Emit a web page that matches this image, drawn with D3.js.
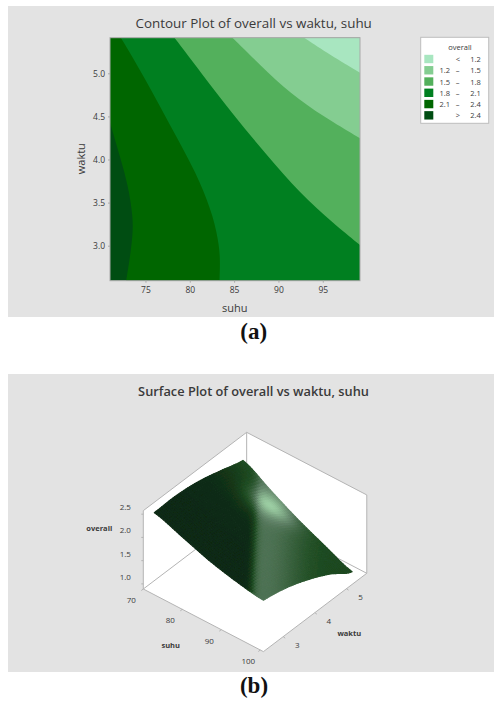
<!DOCTYPE html>
<html>
<head>
<meta charset="utf-8">
<script src="https://cdn.jsdelivr.net/npm/d3@7"></script>
<style>
  html, body { margin: 0; padding: 0; background: #fff; }
  svg { display: block; }
  text { font-family: "Open Sans", sans-serif; fill: #3a3a3a; }
</style>
</head>
<body>
<div id="chart"></div>
<script>
// contour panel: band boundaries, as [suhu, waktu]
const bandLabels = ['< 1.2', '1.2 - 1.5', '1.5 - 1.8', '1.8 - 2.1', '2.1 - 2.4', '> 2.4'];
const legendLow = ['<', '1.2', '1.5', '1.8', '2.1', '>'];
const legendHigh = ['1.2', '1.5', '1.8', '2.1', '2.4', '2.4'];
const bandColors = ['#a8e6c0', '#84cd91', '#53b05c', '#007f20', '#006600', '#004d12'];

const boundary24 = [[71.0, 4.427], [72.13, 4.033], [73.08, 3.685], [73.58, 3.337], [73.58, 3.144], [73.27, 2.873], [72.82, 2.594]];
const boundary21 = [[72.22, 5.413], [74.4, 5.038], [76.66, 4.613], [79.1, 4.149], [81.17, 3.743], [82.67, 3.337], [83.35, 2.989], [83.42, 2.796], [83.35, 2.594]];
const boundary18 = [[78.27, 5.413], [81.17, 5.019], [84.92, 4.516], [88.68, 4.052], [92.44, 3.608], [96.2, 3.26], [99.2, 3.008]];
const boundary15 = [[84.81, 5.413], [87.93, 5.096], [91.31, 4.768], [95.07, 4.497], [99.2, 4.246]];
const boundary12 = [[92.89, 5.413], [95.82, 5.212], [99.2, 5.007]];

const contourXTicks = [75, 80, 85, 90, 95];
const contourYTicks = [3.0, 3.5, 4.0, 4.5, 5.0];

const surfaceSuhu = [71, 78, 85, 92, 99];
const surfaceWaktu = [2.6, 3.3, 4.0, 4.7, 5.4];
const overall26 = [2.46, 2.26, 2.05, 1.9, 1.8];
const overall33 = [2.47, 2.27, 2.05, 1.88, 1.7];
const overall40 = [2.41, 2.17, 1.95, 1.72, 1.52];
const overall47 = [2.28, 2.03, 1.78, 1.5, 1.28];
const overall54 = [2.14, 1.81, 1.49, 1.22, 0.97];

const surfaceSuhuTicks = [70, 80, 90, 100];
const surfaceWaktuTicks = [3, 4, 5];
const surfaceOverallTicks = [1.0, 1.5, 2.0, 2.5];

const width = 494;
const height = 702;
const panelColor = '#e3e3e3';
const lineColor = '#b4b4b4';

const svg = d3.select('#chart').append('svg')
    .attr('width', width)
    .attr('height', height);

svg.append('rect').attr('x', 8).attr('y', 6).attr('width', width - 8).attr('height', 311).attr('fill', panelColor);
svg.append('rect').attr('x', 8).attr('y', 374).attr('width', width - 8).attr('height', 298).attr('fill', panelColor);

// ---------- (a) contour ----------
const plot = { left: 110, right: 360, top: 37.7, bottom: 280.7 };
const xDomain = [71.0, 99.2];
const yDomain = [2.594, 5.413];
const x = d3.scaleLinear().domain(xDomain).range([plot.left, plot.right]);
const y = d3.scaleLinear().domain(yDomain).range([plot.bottom, plot.top]);

svg.append('text').attr('x', 253.7).attr('y', 28).attr('text-anchor', 'middle')
    .attr('font-size', 13.4).text('Contour Plot of overall vs waktu, suhu');

svg.append('clipPath').attr('id', 'plotClip').append('rect')
    .attr('x', plot.left).attr('y', plot.top)
    .attr('width', plot.right - plot.left).attr('height', plot.bottom - plot.top);

const bands = svg.append('g').attr('clip-path', 'url(#plotClip)');
bands.append('rect')
    .attr('x', plot.left).attr('y', plot.top)
    .attr('width', plot.right - plot.left).attr('height', plot.bottom - plot.top)
    .attr('fill', bandColors[5]);

const boundaryLine = d3.line().x(d => x(d[0])).y(d => y(d[1])).curve(d3.curveBasis);

// everything to the upper right of a boundary gets that band's colour
function bandPath(b) {
    const first = b[0];
    const last = b[b.length - 1];
    const walk = [];
    if (last[1] <= yDomain[0]) walk.push([xDomain[1], yDomain[0]]);
    walk.push([xDomain[1], yDomain[1]]);
    if (first[0] <= xDomain[0]) walk.push([xDomain[0], yDomain[1]]);
    return boundaryLine(b) + walk.map(p => `L${x(p[0])},${y(p[1])}`).join('') + 'Z';
}

bands.selectAll('path')
    .data([
        { b: boundary24, c: bandColors[4] },
        { b: boundary21, c: bandColors[3] },
        { b: boundary18, c: bandColors[2] },
        { b: boundary15, c: bandColors[1] },
        { b: boundary12, c: bandColors[0] }
    ])
    .enter().append('path')
    .attr('d', d => bandPath(d.b))
    .attr('fill', d => d.c);

svg.append('rect')
    .attr('x', plot.left).attr('y', plot.top)
    .attr('width', plot.right - plot.left).attr('height', plot.bottom - plot.top)
    .attr('fill', 'none').attr('stroke', '#a9a9a9');

const xAxis = svg.append('g').attr('transform', `translate(0,${plot.bottom})`)
    .call(d3.axisBottom(x).tickValues(contourXTicks).tickSize(2).tickPadding(4));
const yAxis = svg.append('g').attr('transform', `translate(${plot.left},0)`)
    .call(d3.axisLeft(y).tickValues(contourYTicks).tickFormat(d3.format('.1f')).tickSize(2).tickPadding(3));
[xAxis, yAxis].forEach(a => {
    a.select('.domain').remove();
    a.selectAll('line').attr('stroke', '#a9a9a9');
    a.selectAll('text').attr('font-size', 8.5).attr('font-family', '"Open Sans", sans-serif');
});

svg.append('text').attr('x', 234.7).attr('y', 312).attr('text-anchor', 'middle').attr('font-size', 11).text('suhu');
svg.append('text').attr('transform', 'translate(85,158.7) rotate(-90)').attr('text-anchor', 'middle').attr('font-size', 11).text('waktu');

// legend
const legend = svg.append('g');
legend.append('rect').attr('x', 420.7).attr('y', 37.3).attr('width', 68).attr('height', 86)
    .attr('fill', '#fff').attr('stroke', '#bdbdbd');
legend.append('text').attr('x', 460).attr('y', 50).attr('text-anchor', 'middle').attr('font-size', 7.5).text('overall');

const legendY = d3.scaleBand().domain(d3.range(bandLabels.length)).range([53.4, 121]);
const rows = legend.selectAll('g.row').data(bandLabels).enter().append('g').attr('class', 'row')
    .attr('transform', (d, i) => `translate(0,${legendY(i)})`);
rows.append('rect').attr('x', 424.3).attr('y', 1.4).attr('width', 9).attr('height', 8.4)
    .attr('fill', (d, i) => bandColors[i]);
rows.append('text').attr('x', (d, i) => (i === 0 || i === 5) ? 458 : 450).attr('y', 8.6)
    .attr('text-anchor', (d, i) => (i === 0 || i === 5) ? 'middle' : 'end')
    .attr('font-size', 7.5).text((d, i) => legendLow[i]);
rows.filter((d, i) => i > 0 && i < 5).append('text').attr('x', 457.7).attr('y', 8.6)
    .attr('text-anchor', 'middle').attr('font-size', 7.5).text('\u2013');
rows.append('text').attr('x', 480.7).attr('y', 8.6).attr('text-anchor', 'end')
    .attr('font-size', 7.5).text((d, i) => legendHigh[i]);

svg.append('text').attr('x', 253.7).attr('y', 339).attr('text-anchor', 'middle')
    .style('font-family', '"Liberation Serif", serif').attr('font-size', 23).attr('font-weight', 700)
    .style('fill', '#111').text('(a)');

// ---------- (b) surface ----------
svg.append('text').attr('x', 253.5).attr('y', 396).attr('text-anchor', 'middle')
    .attr('font-size', 12.8).attr('font-weight', 600).text('Surface Plot of overall vs waktu, suhu');

const boxSuhu = [70, 100.8];
const boxWaktu = [2.376, 5.64];
const boxOverall = [0.89, 2.576];

// oblique projection, one scale per axis and screen direction
const suhuDx = d3.scaleLinear().domain([70, 100]).range([0, 117]);
const suhuDy = d3.scaleLinear().domain([70, 100]).range([0, 61]);
const waktuDx = d3.scaleLinear().domain([2.376, 5.376]).range([0, 95]);
const waktuDy = d3.scaleLinear().domain([2.376, 5.376]).range([0, -72]);
const overallDy = d3.scaleLinear().domain([0.89, 1.89]).range([0, -46.47]);
const project = (s, w, o) => [
    143.3 + suhuDx(s) + waktuDx(w),
    589 + suhuDy(s) + waktuDy(w) + overallDy(o)
];

const [sLo, sHi] = boxSuhu;
const [wLo, wHi] = boxWaktu;
const [oLo, oHi] = boxOverall;
const pathOf = d3.line();

svg.append('path')
    .attr('d', pathOf([
        project(sLo, wLo, oLo), project(sLo, wLo, oHi), project(sLo, wHi, oHi),
        project(sHi, wHi, oHi), project(sHi, wHi, oLo), project(sHi, wLo, oLo)
    ]) + 'Z')
    .attr('fill', '#fff').attr('stroke', lineColor);

svg.selectAll('path.edge')
    .data([
        [project(sLo, wHi, oHi), project(sLo, wHi, oLo)],
        [project(sLo, wLo, oLo), project(sLo, wHi, oLo)],
        [project(sHi, wHi, oLo), project(sLo, wHi, oLo)]
    ])
    .enter().append('path').attr('class', 'edge')
    .attr('d', d => pathOf(d)).attr('fill', 'none').attr('stroke', lineColor);

// smooth the read values between grid lines so the sheet is not faceted
const surfaceRows = [overall26, overall33, overall40, overall47, overall54];
function catmull(vals, f) {
    const n = vals.length - 1;
    const i = Math.min(Math.floor(f * n), n - 1);
    const t = f * n - i;
    const p0 = vals[Math.max(i - 1, 0)], p1 = vals[i], p2 = vals[i + 1], p3 = vals[Math.min(i + 2, n)];
    return 0.5 * (2 * p1 + (p2 - p0) * t + (2 * p0 - 5 * p1 + 4 * p2 - p3) * t * t + (3 * p1 - p0 - 3 * p2 + p3) * t * t * t);
}
const surfaceAt = (u, v) => catmull(surfaceRows.map(r => catmull(r, u)), v);
const uToSuhu = d3.scaleLinear().domain([0, 1]).range(d3.extent(surfaceSuhu));
const vToWaktu = d3.scaleLinear().domain([0, 1]).range(d3.extent(surfaceWaktu));
const meshPoint = (u, v) => project(uToSuhu(u), vToWaktu(v), surfaceAt(u, v));

// lighting of the sheet: dark left part, pale diagonal band, one hot spot
const ramp = d3.scaleLinear().domain([0, 0.2, 0.5, 1])
    .range(['#0c2412', '#1f4c22', '#5f8066', '#b4ecbb']);
function lightAt(u, v) {
    const d = u - (1 - 0.76 * v);
    const base = 0.03 + 0.18 * v * v * v * v;
    const peak = 0.42;
    let t;
    if (d < -0.2) t = base;
    else if (d < 0) t = base + (peak - base) * d3.easeCubicInOut((d + 0.2) / 0.2);
    else t = 0.18 + (peak - 0.18) * Math.exp(-d * d / (2 * 0.22 * 0.22));
    t += 0.44 * Math.exp(-((u - 0.36) ** 2 + (v - 0.86) ** 2) / (2 * 0.11 * 0.11));
    return ramp(Math.min(t, 1));
}

const defs = svg.append('defs');
defs.append('filter').attr('id', 'soften')
    .attr('x', '-5%').attr('y', '-5%').attr('width', '110%').attr('height', '110%')
    .append('feGaussianBlur').attr('stdDeviation', 0.5);

const meshN = 48;
const cells = [];
for (let j = meshN - 1; j >= 0; j--) {
    for (let i = 0; i < meshN; i++) cells.push({ i, j });
}
svg.append('g').attr('filter', 'url(#soften)').selectAll('path').data(cells).enter().append('path')
    .attr('d', d => {
        const u0 = d.i / meshN, u1 = (d.i + 1) / meshN;
        const v0 = d.j / meshN, v1 = (d.j + 1) / meshN;
        return pathOf([meshPoint(u0, v0), meshPoint(u1, v0), meshPoint(u1, v1), meshPoint(u0, v1)]) + 'Z';
    })
    .attr('fill', d => lightAt((d.i + 0.5) / meshN, (d.j + 0.5) / meshN))
    .attr('stroke', d => lightAt((d.i + 0.5) / meshN, (d.j + 0.5) / meshN))
    .attr('stroke-width', 1.1)
    .attr('stroke-linejoin', 'round');

// surface axes
const tickLabel = (sel, size) => sel.attr('text-anchor', 'middle').attr('font-size', size);

const overallTicks = svg.append('g').selectAll('g').data(surfaceOverallTicks).enter().append('g');
overallTicks.append('path')
    .attr('d', d => { const p = project(sLo, wLo, d); return pathOf([[p[0] - 2, p[1]], p]); })
    .attr('stroke', lineColor);
overallTicks.append('text').call(tickLabel, 8)
    .attr('x', d => project(sLo, wLo, d)[0] - 18)
    .attr('y', d => project(sLo, wLo, d)[1] - 4)
    .text(d3.format('.1f'));

const suhuTicks = svg.append('g').selectAll('g').data(surfaceSuhuTicks).enter().append('g');
suhuTicks.append('path')
    .attr('d', d => { const p = project(d, wLo, oLo); return pathOf([p, [p[0] - 2, p[1] + 1.5]]); })
    .attr('stroke', lineColor);
suhuTicks.append('text').call(tickLabel, 8)
    .attr('x', d => project(d, wLo, oLo)[0] - 12)
    .attr('y', d => project(d, wLo, oLo)[1] + 14)
    .text(d => d);

const waktuTicks = svg.append('g').selectAll('g').data(surfaceWaktuTicks).enter().append('g');
waktuTicks.append('path')
    .attr('d', d => { const p = project(sHi, d, oLo); return pathOf([p, [p[0] + 2, p[1] + 1.5]]); })
    .attr('stroke', lineColor);
waktuTicks.append('text').call(tickLabel, 8)
    .attr('x', d => project(sHi, d, oLo)[0] + 14)
    .attr('y', d => project(sHi, d, oLo)[1] + 11)
    .text(d => d);

svg.append('text').attr('x', 99.3).attr('y', 530.5).attr('text-anchor', 'middle')
    .attr('font-size', 7.5).attr('font-weight', 700).text('overall');
svg.append('text').attr('x', 170.7).attr('y', 648).attr('text-anchor', 'middle')
    .attr('font-size', 7.5).attr('font-weight', 700).text('suhu');
svg.append('text').attr('x', 349.3).attr('y', 635.5).attr('text-anchor', 'middle')
    .attr('font-size', 7.5).attr('font-weight', 700).text('waktu');

svg.append('text').attr('x', 254).attr('y', 693).attr('text-anchor', 'middle')
    .style('font-family', '"Liberation Serif", serif').attr('font-size', 23).attr('font-weight', 700)
    .style('fill', '#111').text('(b)');
</script>
</body>
</html>
